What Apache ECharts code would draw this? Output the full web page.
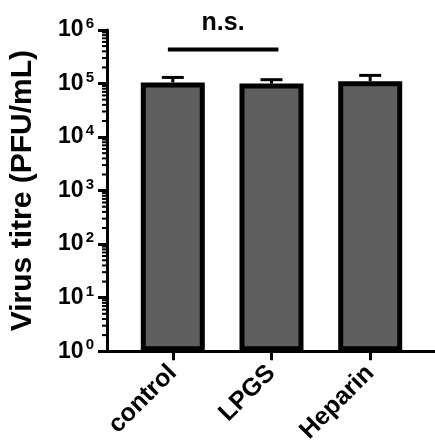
<!DOCTYPE html>
<html><head><meta charset="utf-8">
<script src="https://cdn.jsdelivr.net/npm/echarts@6/dist/echarts.min.js"></script>
<style>html,body{margin:0;padding:0;background:#fff}#c{width:435px;height:446px}</style>
</head><body><div id="c"></div>
<script>
const categories = ['control', 'LPGS', 'Heparin'];
const positions = [1, 2, 3];
const means = [1.05e5, 1.0e5, 1.1e5];
const upperErr = [1.3e5, 1.18e5, 1.42e5];
const yTickExponents = [0, 1, 2, 3, 4, 5, 6];
const minorMultipliers = [2, 3, 4, 5, 6, 7, 8, 9];
const sigFrom = 0.95, sigTo = 2.07, sigY = 4.3e5;
const sigLabel = 'n.s.';

const minorTickValues = [];
yTickExponents.slice(0, -1).forEach(e => minorMultipliers.forEach(m => minorTickValues.push(m * Math.pow(10, e))));

const chart = echarts.init(document.getElementById('c'));
const font = 'Liberation Sans, Arial, sans-serif';
const xMin = 1 - 66/99;
chart.setOption({
  animation: false,
  grid: { left: 106, right: 0, top: 30, bottom: 92 },
  xAxis: {
    type: 'value', min: xMin, max: 3 + 65/99,
    splitLine: { show: false },
    axisLine: { lineStyle: { color: '#000', width: 3 } },
    axisTick: { show: true, customValues: positions, length: 9, lineStyle: { color: '#000', width: 3 } },
    axisLabel: {
      customValues: positions, rotate: 45, margin: 18,
      formatter: v => categories[positions.indexOf(v)] || '',
      color: '#000', fontFamily: font, fontWeight: 'bold', fontSize: 25
    }
  },
  yAxis: {
    type: 'log', logBase: 10, min: 1, max: 1e6,
    name: 'Virus titre (PFU/mL)', nameLocation: 'middle', nameGap: 69,
    nameTextStyle: { color: '#000', fontFamily: font, fontWeight: 'bold', fontSize: 30 },
    splitLine: { show: false },
    axisLine: { show: true, lineStyle: { color: '#000', width: 3 } },
    axisTick: { show: true, length: 9, lineStyle: { color: '#000', width: 3 } },
    minorTick: { show: false },
    axisLabel: {
      margin: 13, color: '#000',
      formatter: v => { const e = Math.round(Math.log10(v)); return '{b|10}{s|' + e + '}'; },
      rich: {
        b: { fontFamily: font, fontWeight: 'bold', fontSize: 23, color: '#000' },
        s: { fontFamily: font, fontWeight: 'bold', fontSize: 15, color: '#000', verticalAlign: 'top', padding: [0, 0, 12, 2] }
      }
    }
  },
  series: [
    {
      type: 'custom', clip: false, z: 4, silent: true,
      data: minorTickValues.map(v => [xMin, v]),
      renderItem: (params, api) => {
        const p = api.coord([api.value(0), api.value(1)]);
        return { type: 'line', shape: { x1: p[0] - 5, y1: p[1], x2: p[0], y2: p[1] }, style: { stroke: '#000', lineWidth: 2 } };
      }
    },
    {
      type: 'bar', barWidth: 64,
      data: positions.map((p, i) => [p, means[i]]),
      itemStyle: { color: '#5f5f5f', borderColor: '#000', borderWidth: 5 },
      z: 2
    },
    {
      type: 'custom', z: 1,
      data: positions.map((p, i) => [p, means[i], upperErr[i]]),
      renderItem: (params, api) => {
        const base = api.coord([api.value(0), api.value(1)]);
        const top = api.coord([api.value(0), api.value(2)]);
        return { type: 'group', children: [
          { type: 'line', shape: { x1: base[0], y1: base[1], x2: top[0], y2: top[1] }, style: { stroke: '#000', lineWidth: 3 } },
          { type: 'line', shape: { x1: top[0] - 11, y1: top[1], x2: top[0] + 11, y2: top[1] }, style: { stroke: '#000', lineWidth: 3 } }
        ]};
      }
    },
    {
      type: 'custom', clip: false, z: 3,
      data: [[sigFrom, sigTo, sigY]],
      renderItem: (params, api) => {
        const a = api.coord([api.value(0), api.value(2)]);
        const b = api.coord([api.value(1), api.value(2)]);
        return { type: 'group', children: [
          { type: 'line', shape: { x1: a[0], y1: a[1], x2: b[0], y2: b[1] }, style: { stroke: '#000', lineWidth: 4 } },
          { type: 'text', x: (a[0] + b[0]) / 2, y: a[1] - 14, style: { text: sigLabel, fill: '#000', font: 'bold 25px ' + font, align: 'center', verticalAlign: 'bottom' } }
        ]};
      }
    }
  ]
});
</script></body></html>
